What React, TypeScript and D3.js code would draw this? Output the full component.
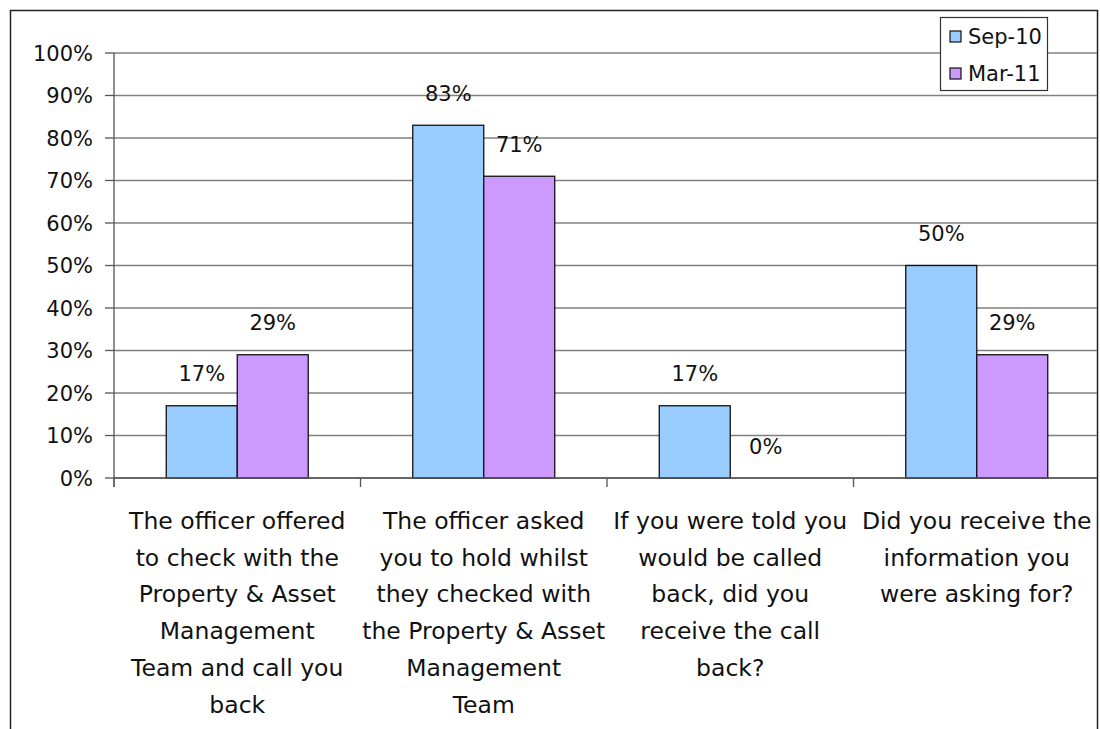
import React from "react";
import * as d3 from "d3";

const categories: string[][] = [
  ["The officer offered", "to check with the", "Property & Asset", "Management", "Team and call you", "back"],
  ["The officer asked", "you to hold whilst", "they checked with", "the Property & Asset", "Management", "Team"],
  ["If you were told you", "would be called", "back, did you", "receive the call", "back?"],
  ["Did you receive the", "information you", "were asking for?"],
];
const seriesNames = ["Sep-10", "Mar-11"];
const sep10 = [0.17, 0.83, 0.17, 0.5];
const mar11 = [0.29, 0.71, 0.0, 0.29];
const seriesColors = ["#99CCFF", "#CC99FF"];
const yTicks = [0, 0.1, 0.2, 0.3, 0.4, 0.5, 0.6, 0.7, 0.8, 0.9, 1.0];

const W = 1100;
const H = 729;
const FONT = "'DejaVu Sans', sans-serif";

export default function App() {
  const left = 114, right = 1100, top = 53, bottom = 478;
  const catIds = categories.map((_, i) => String(i));
  const x0 = d3.scaleBand<string>().domain(catIds).range([left, right]).padding(0);
  const x1 = d3.scaleBand<string>().domain(seriesNames).range([0, x0.bandwidth()]).paddingInner(0).paddingOuter(0.736);
  const y = d3.scaleLinear().domain([0, 1]).range([bottom, top]);
  const fmt = d3.format(".0%");
  const series = [sep10, mar11];
  const fs = 21;
  const fsCat = 23.5;

  return (
    <svg width={W} height={H} style={{ position: "absolute", left: 0, top: 0, background: "#fff" }}>
      <rect x={0} y={0} width={W} height={H} fill="#fff" />
      <rect x={10.5} y={10.5} width={1087} height={740} fill="none" stroke="#222" strokeWidth={1.5} />
      {/* gridlines */}
      {yTicks.map((t) => (
        <line key={"g" + t} x1={left} x2={1097} y1={y(t)} y2={y(t)} stroke="#808080" strokeWidth={1.3} />
      ))}
      {/* y ticks and labels */}
      {yTicks.map((t) => (
        <g key={"yt" + t}>
          <line x1={left - 9} x2={left} y1={y(t)} y2={y(t)} stroke="#555" strokeWidth={1.3} />
          <text x={left - 21} y={y(t)} dy="0.36em" textAnchor="end" fontFamily={FONT} fontSize={fs} fill="#111">
            {fmt(t)}
          </text>
        </g>
      ))}
      {/* bars */}
      {series.map((vals, si) =>
        vals.map((v, ci) => {
          const bx = x0(String(ci))! + x1(seriesNames[si])!;
          return v > 0 ? (
            <rect key={`b${si}-${ci}`} x={bx} y={y(v)} width={x1.bandwidth()} height={y(0) - y(v)}
              fill={seriesColors[si]} stroke="#111" strokeWidth={1.3} />
          ) : null;
        })
      )}
      {/* data labels */}
      {series.map((vals, si) =>
        vals.map((v, ci) => {
          const bx = x0(String(ci))! + x1(seriesNames[si])! + x1.bandwidth() / 2;
          return (
            <text key={`l${si}-${ci}`} x={bx} y={y(v) - 32} dy="0.36em" textAnchor="middle" fontFamily={FONT} fontSize={fs} fill="#111">
              {fmt(v)}
            </text>
          );
        })
      )}
      {/* axes */}
      <line x1={left} x2={left} y1={top} y2={bottom + 9} stroke="#555" strokeWidth={1.3} />
      <line x1={left} x2={1097} y1={bottom} y2={bottom} stroke="#555" strokeWidth={1.3} />
      {catIds.map((c) => (
        <line key={"xt" + c} x1={x0(c)!} x2={x0(c)!} y1={bottom} y2={bottom + 9} stroke="#555" strokeWidth={1.3} />
      ))}
      {/* category labels */}
      {categories.map((lines, ci) => (
        <text key={"c" + ci} x={x0(String(ci))! + x0.bandwidth() / 2} textAnchor="middle" fontFamily={FONT} fontSize={fsCat} fill="#111">
          {lines.map((ln, li) => (
            <tspan key={li} x={x0(String(ci))! + x0.bandwidth() / 2} y={529 + li * 36.7}>{ln}</tspan>
          ))}
        </text>
      ))}
      {/* legend */}
      <rect x={940.5} y={17.5} width={107} height={73} fill="#fff" stroke="#333" strokeWidth={1.2} />
      {seriesNames.map((s, i) => (
        <g key={"lg" + s}>
          <rect x={950} y={31 + i * 37} width={11} height={11} fill={seriesColors[i]} stroke="#111" strokeWidth={1.2} />
          <text x={968} y={36.5 + i * 37} dy="0.36em" fontFamily={FONT} fontSize={fs} fill="#111">{s}</text>
        </g>
      ))}
    </svg>
  );
}
